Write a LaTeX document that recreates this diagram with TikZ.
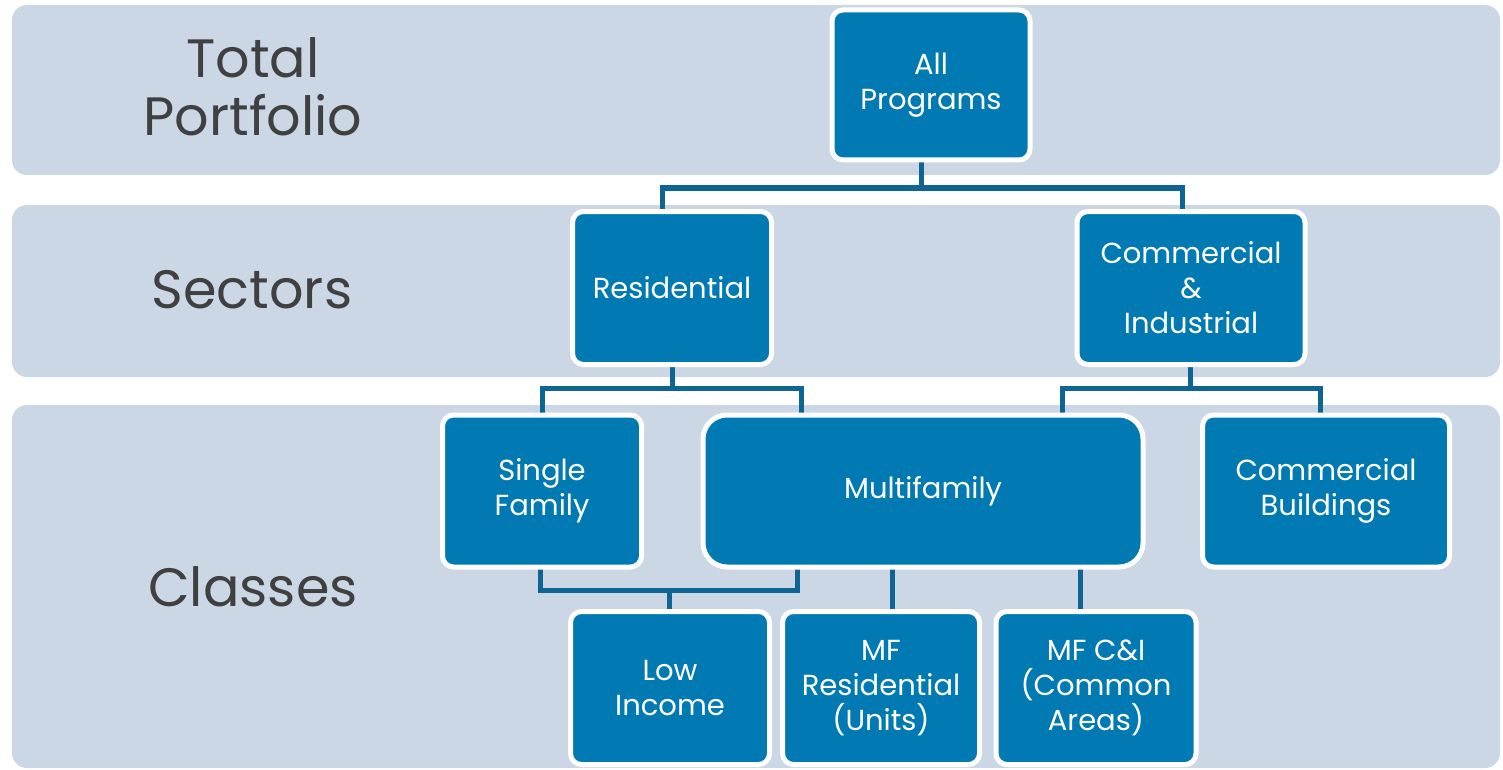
\documentclass[tikz,border=0pt]{standalone}
\usepackage{fontspec}
\setmainfont{Poppins}
\definecolor{band}{HTML}{CBD7E5}
\definecolor{boxblue}{HTML}{017AB4}
\definecolor{linkc}{HTML}{0E6593}
\definecolor{labelc}{HTML}{404040}
\begin{document}
\begin{tikzpicture}[x=1pt,y=-1pt,
  bandbox/.style={fill=band, rounded corners=15pt},
  box/.style={draw=white, line width=5pt, fill=boxblue, rounded corners=11pt,
    text=white, align=center, font=\fontsize{29}{35}\selectfont, inner sep=0pt,
    minimum height=150pt},
  rowlabel/.style={text=labelc, align=center, font=\fontsize{54}{58}\selectfont},
  link/.style={draw=linkc, line width=5pt}]
\useasboundingbox (0,0) rectangle (1503,770);
\fill[bandbox] (12,5) rectangle (1500,175);
\fill[bandbox] (12,205) rectangle (1500,377);
\fill[bandbox] (12,405) rectangle (1500,768);

\node[rowlabel] (lt) at (253,87) {Total\\Portfolio};
\node[rowlabel] (ls) at (252,290) {Sectors};
\node[rowlabel] (lc) at (253,587) {Classes};

% connectors first (behind boxes)
\coordinate (apb) at (921,160);
\coordinate (j1) at (921,188);
\coordinate (j1l) at (662,188);
\coordinate (j1r) at (1182,188);
\coordinate (resb) at (672,365);
\coordinate (j2) at (672,388);
\coordinate (j2l) at (542,388);
\coordinate (j2r) at (801,388);
\coordinate (cib) at (1190,365);
\coordinate (j3) at (1190,388);
\coordinate (j3l) at (1062,388);
\coordinate (j3r) at (1320,388);
\coordinate (j4l) at (540,590);
\coordinate (j4r) at (797,590);
\coordinate (j4) at (669,590);

\draw[link] (apb) -- (j1);
\draw[link] (j1l |- 0,212) -- (j1l) -- (j1r) -- (j1r |- 0,212);
\draw[link] (resb) -- (j2);
\draw[link] (j2l |- 0,415) -- (j2l) -- (j2r) -- (j2r |- 0,415);
\draw[link] (cib) -- (j3);
\draw[link] (j3l |- 0,415) -- (j3l) -- (j3r) -- (j3r |- 0,415);
\draw[link] (540,567) -- (j4l) -- (j4r) -- (797,567);
\draw[link] (j4) -- (669,612);
\draw[link] (892,567) -- (892,612);
\draw[link] (1080,567) -- (1080,612);

\node[box, minimum width=198pt] (ap) at (931,85) {All\\Programs};
\node[box, minimum width=199pt, minimum height=153pt] (res) at (672,288) {Residential};
\node[box, minimum width=228pt, minimum height=153pt] (ci) at (1191,288) {Commercial\\\&\\Industrial};
\node[box, minimum width=199pt, minimum height=152pt] (sf) at (542,491) {Single\\Family};
\node[box, minimum width=440pt, minimum height=152pt, rounded corners=24pt] (mf) at (923,491) {Multifamily};
\node[box, minimum width=247pt, minimum height=152pt] (cb) at (1326,491) {Commercial\\Buildings};
\node[box, minimum width=199pt, minimum height=153pt] (li) at (670,688) {Low\\Income};
\node[box, minimum width=197pt, minimum height=153pt] (mfr) at (881,688) {MF\\Residential\\(Units)};
\node[box, minimum width=200pt, minimum height=153pt] (mfc) at (1096,688) {MF C\&I\\(Common\\Areas)};
\end{tikzpicture}
\end{document}
